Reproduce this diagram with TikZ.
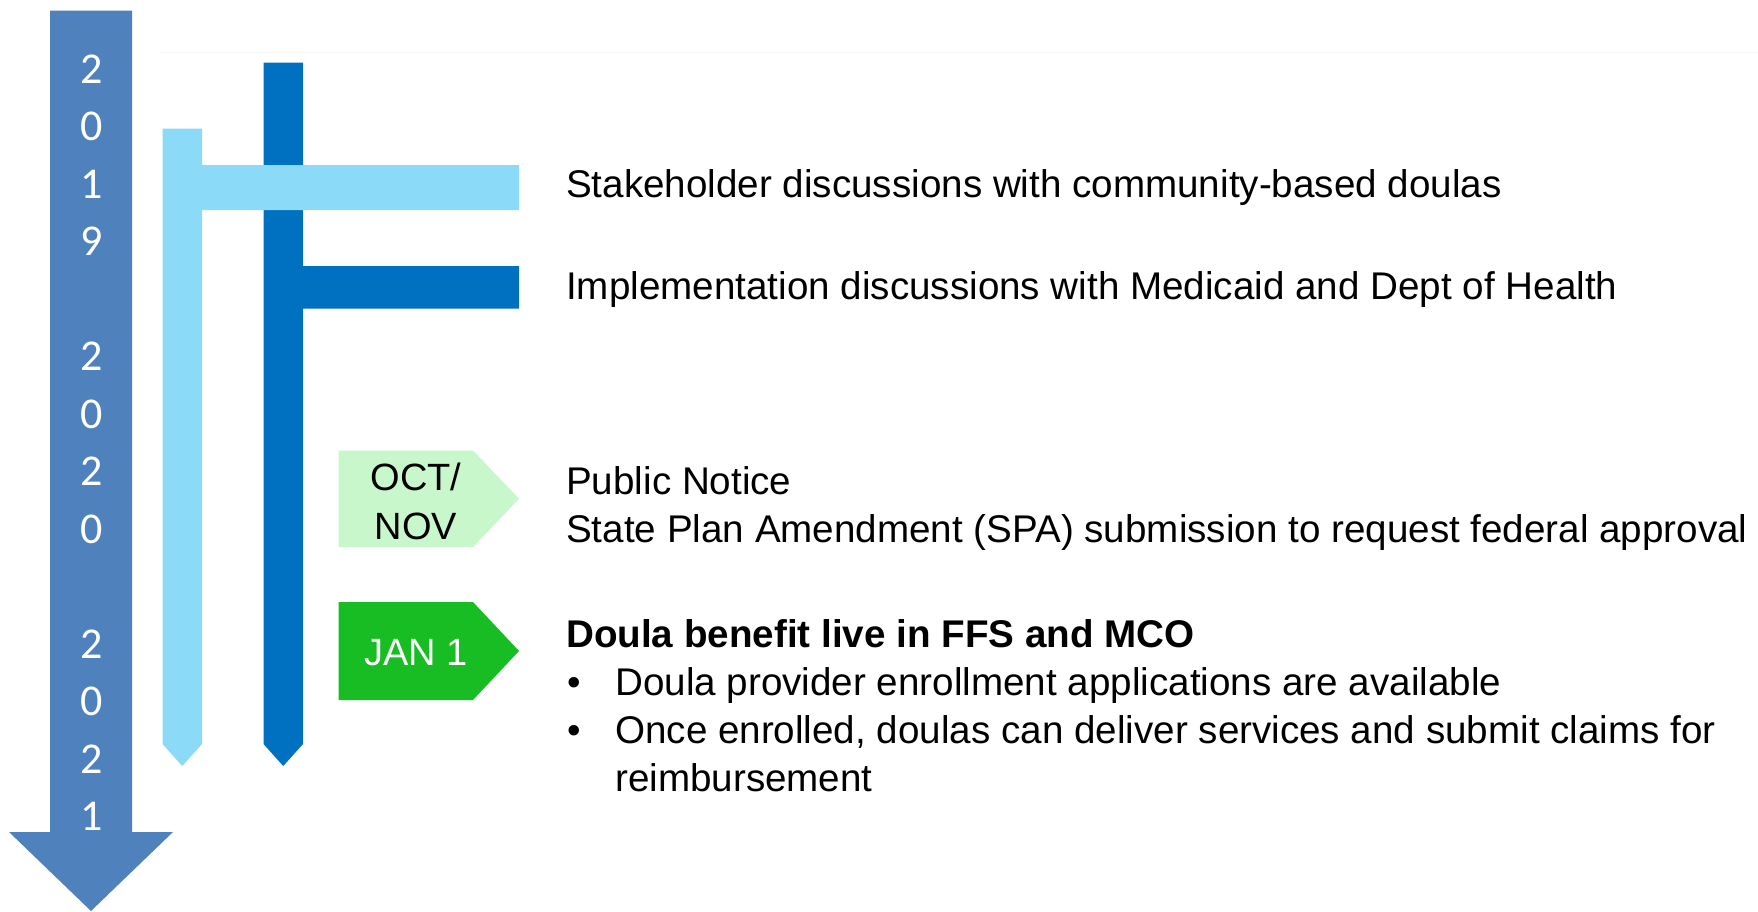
\documentclass[tikz,border=0pt]{standalone}
\usepackage{fontspec}
\setmainfont{Liberation Sans}
\newfontfamily\yearfont{Carlito}
\definecolor{yearblue}{HTML}{4F81BD}
\definecolor{lightbar}{HTML}{8BDAF7}
\definecolor{darkbar}{HTML}{0070C0}
\definecolor{palegreen}{HTML}{C8F7CC}
\definecolor{livegreen}{HTML}{17BD22}
\begin{document}
\begin{tikzpicture}[x=1pt,y=-1pt,
  body/.style={anchor=base west,inner sep=0pt,font=\fontsize{38.6}{48}\selectfont},
  bodybold/.style={body,font=\bfseries\fontsize{38.6}{48}\selectfont},
  bulletmark/.style={anchor=base,inner sep=0pt,font=\fontsize{38.6}{48}\selectfont},
  yeardigit/.style={anchor=base,inner sep=0pt,text=white,font=\yearfont\fontsize{44}{50}\selectfont},
  tag/.style={anchor=base,inner sep=0pt,font=\fontsize{38}{48}\selectfont}]
\useasboundingbox (0,0) rectangle (1758,911);
\fill[white] (0,0) rectangle (1758,911);

% faint rule along the top
\draw[black!3, line width=1.5] (160,52.5) -- (1758,52.5);

% year arrow
\fill[yearblue] (50,10.5) -- (132,10.5) -- (132,832) -- (173,832) -- (91,911)
  -- (9,832) -- (50,832) -- cycle;
\foreach \d/\k in {2/0,0/1,1/2,9/3,2/5,0/6,2/7,0/8,2/10,0/11,2/12,1/13}
  \node[yeardigit] (yr\k) at (91.5,83+57.5*\k) {\d};

% implementation track (dark blue)
\fill[darkbar] (263.5,62.5) -- (303,62.5) -- (303,266) -- (519,266) -- (519,308.5)
  -- (303,308.5) -- (303,744) -- (283.25,766) -- (263.5,744) -- cycle;

% stakeholder track (light blue), drawn over the dark one
\fill[lightbar] (162.5,128.5) -- (202,128.5) -- (202,165) -- (519,165) -- (519,210)
  -- (202,210) -- (202,744) -- (182.25,766) -- (162.5,744) -- cycle;

% milestone tags
\fill[palegreen] (338.5,450.5) -- (473,450.5) -- (519,498.75) -- (473,547)
  -- (338.5,547) -- cycle;
\node[tag] (oct) at (416,490) {OCT/};
\node[tag] (nov) at (416,539) {NOV};

\fill[livegreen] (338.5,602) -- (473,602) -- (519,651) -- (473,700)
  -- (338.5,700) -- cycle;
\node[tag,text=white] (jan) at (416,665) {JAN 1};

% descriptions
\node[body] (stake) at (566,197) {Stakeholder discussions with community-based doulas};
\node[body] (impl) at (566,299) {Implementation discussions with Medicaid and Dept of Health};
\node[body] (pubnot) at (566,494) {Public Notice};
\node[body] (spa) at (566,542) {State Plan Amendment (SPA) submission to request federal approval};
\node[bodybold] (live) at (566,647) {Doula benefit live in FFS and MCO};
\node[bulletmark] (b1) at (574,695) {\textbullet};
\node[body] (enroll) at (615,695) {Doula provider enrollment applications are available};
\node[bulletmark] (b2) at (574,743) {\textbullet};
\node[body] (claims) at (615,743) {Once enrolled, doulas can deliver services and submit claims for};
\node[body] (reimb) at (615,791) {reimbursement};
\end{tikzpicture}
\end{document}
